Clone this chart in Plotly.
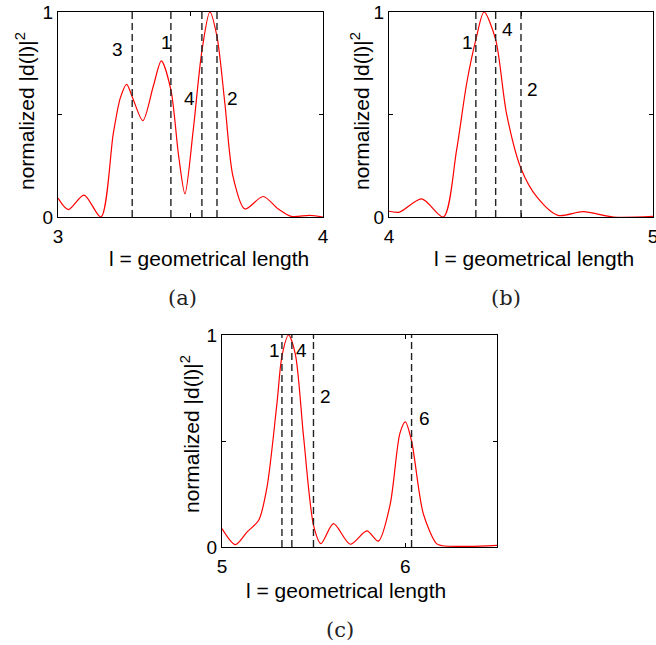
import plotly.graph_objects as go

# ---------------- data ----------------
# panel (a)
a_x = [3.0, 3.039, 3.098, 3.162, 3.209, 3.235, 3.259, 3.28, 3.32, 3.36, 3.39, 3.426, 3.455, 3.479,
       3.51, 3.543, 3.573, 3.60, 3.63, 3.66, 3.705, 3.774, 3.83, 3.88, 3.95, 4.0]
a_y = [0.092, 0.036, 0.107, 0.0, 0.41, 0.58, 0.647, 0.587, 0.47, 0.64, 0.762, 0.62, 0.30, 0.113,
       0.42, 0.81, 1.0, 0.88, 0.55, 0.2, 0.039, 0.10, 0.04, 0.003, 0.008, 0.0]
a_lines = [3.28, 3.426, 3.543, 3.60]
a_lab = ["3", "1", "4", "2"]
a_lab_x = [3.226, 3.408, 3.498, 3.66]
a_lab_y = [0.815, 0.849, 0.58, 0.58]

# panel (b)
b_x = [4.0, 4.04, 4.124, 4.206, 4.256, 4.294, 4.329, 4.36, 4.404, 4.445, 4.50, 4.56, 4.64,
       4.735, 4.85, 5.0]
b_y = [0.028, 0.024, 0.088, 0.0, 0.326, 0.65, 0.865, 1.0, 0.865, 0.506, 0.237, 0.098, 0.008,
       0.026, 0.0, 0.003]
b_lines = [4.329, 4.404, 4.50]
b_lab = ["1", "4", "2"]
b_lab_x = [4.299, 4.447, 4.545]
b_lab_y = [0.849, 0.917, 0.624]

# panel (c)
c_x = [5.0, 5.073, 5.136, 5.2, 5.245, 5.3, 5.327, 5.363, 5.40, 5.445, 5.50, 5.54, 5.608, 5.70,
       5.79, 5.853, 5.917, 5.97, 6.0, 6.034, 6.098, 6.17, 6.2, 6.35, 6.5]
c_y = [0.087, 0.011, 0.07, 0.126, 0.28, 0.68, 0.9, 1.0, 0.91, 0.52, 0.10, 0.016, 0.11, 0.013,
       0.076, 0.028, 0.2, 0.535, 0.59, 0.50, 0.157, 0.016, 0.006, 0.003, 0.008]
c_lines = [5.327, 5.381, 5.499, 6.034]
c_lab = ["1", "4", "2", "6"]
c_lab_x = [5.284, 5.436, 5.562, 6.107]
c_lab_y = [0.929, 0.929, 0.708, 0.604]

x_ticks = {"a": [3, 4], "b": [4, 5], "c": [5, 6]}
x_ticktext = {"a": ["3", "4"], "b": ["4", "5"], "c": ["5", "6"]}
y_ticks = [0, 1]
y_ticktext = ["0", "1"]
x_title = "l = geometrical length"
y_title = "normalized |d(l)|<sup>2</sup>"
panel_names = ["(a)", "(b)", "(c)"]

# ---------------- figure ----------------
W, H = 656, 645
FONT = "Liberation Sans, Arial, Helvetica, sans-serif"

fig = go.Figure()

panels = [
    ("a", "x", "y", a_x, a_y, a_lines, a_lab, a_lab_x, a_lab_y, (3, 4)),
    ("b", "x2", "y2", b_x, b_y, b_lines, b_lab, b_lab_x, b_lab_y, (4, 5)),
    ("c", "x3", "y3", c_x, c_y, c_lines, c_lab, c_lab_x, c_lab_y, (5, 6.5)),
]

# pixel boxes (left, right, top, bottom)
boxes = {"a": (58, 323, 12, 217), "b": (389, 653, 12, 217), "c": (222, 497, 335, 547)}

for key, xa, ya, xs, ys, vl, labs, lx, ly, xr in panels:
    fig.add_trace(go.Scatter(x=xs, y=ys, mode="lines",
                             line=dict(color="#ff0000", width=1.2, shape="spline", smoothing=0.8),
                             xaxis=xa, yaxis=ya, showlegend=False, hoverinfo="skip"))
    for v in vl:
        fig.add_shape(type="line", x0=v, x1=v, y0=0, y1=1, xref=xa, yref=ya,
                      line=dict(color="#222", width=1.4, dash="7px,4px"))
    for t, xx, yy in zip(labs, lx, ly):
        fig.add_annotation(x=xx, y=yy, xref=xa, yref=ya, text=t, showarrow=False,
                           xanchor="center", yanchor="middle",
                           font=dict(family=FONT, size=19, color="black"))

    l, r, t_, b_ = boxes[key]
    xdom = [l / W, r / W]
    ydom = [(H - b_) / H, (H - t_) / H]
    axname = "xaxis" if xa == "x" else "xaxis" + xa[1:]
    ayname = "yaxis" if ya == "y" else "yaxis" + ya[1:]
    fig.layout[axname] = dict(domain=xdom, range=list(xr), anchor=ya, showgrid=False, zeroline=False,
                              showline=True, mirror="ticks", linecolor="black", linewidth=1,
                              ticks="inside", ticklen=4, tickcolor="black",
                              tickvals=x_ticks[key], ticktext=x_ticktext[key],
                              minor=dict(dtick=0.5, tick0=0, ticks="inside", ticklen=4, tickcolor="black"),
                              tickfont=dict(family=FONT, size=19, color="black"), ticklabelstandoff=2,
                              ticklabeloverflow="allow")
    fig.layout[ayname] = dict(domain=ydom, range=[0, 1], anchor=xa, showgrid=False, zeroline=False,
                              showline=True, mirror="ticks", linecolor="black", linewidth=1,
                              ticks="inside", ticklen=4, tickcolor="black",
                              tickvals=y_ticks, ticktext=y_ticktext,
                              minor=dict(dtick=0.5, tick0=0, ticks="inside", ticklen=4, tickcolor="black"),
                              tickfont=dict(family=FONT, size=19, color="black"))

# axis titles and panel labels (paper coordinates from pixel positions)
xt_pos = [(209, 258), (534, 258), (346, 590)]
yt_pos = [(25, 111), (360, 111), (190, 434)]
pn_pos = [(182, 298), (506, 298), (340, 630)]
for (px, py) in xt_pos:
    fig.add_annotation(x=px / W, y=1 - py / H, xref="paper", yref="paper", text=x_title, showarrow=False,
                       xanchor="center", yanchor="middle",
                       font=dict(family=FONT, size=21, color="black"))
for (px, py) in yt_pos:
    fig.add_annotation(x=px / W, y=1 - py / H, xref="paper", yref="paper", text=y_title, showarrow=False,
                       xanchor="center", yanchor="middle",
                       textangle=-90, font=dict(family=FONT, size=21, color="black"))
for name, (px, py) in zip(panel_names, pn_pos):
    fig.add_annotation(x=px / W, y=1 - py / H, xref="paper", yref="paper", text=name, showarrow=False,
                       xanchor="center", yanchor="middle",
                       font=dict(family="DejaVu Serif, Liberation Serif, serif", size=21, color="#222"))

fig.update_layout(width=W, height=H, margin=dict(l=0, r=0, t=0, b=0, autoexpand=False),
                  paper_bgcolor="white", plot_bgcolor="white")

fig.write_html("out.html", config={"responsive": False, "displayModeBar": False},
               post_script="document.body.style.margin='0';document.body.style.overflow='hidden';")
